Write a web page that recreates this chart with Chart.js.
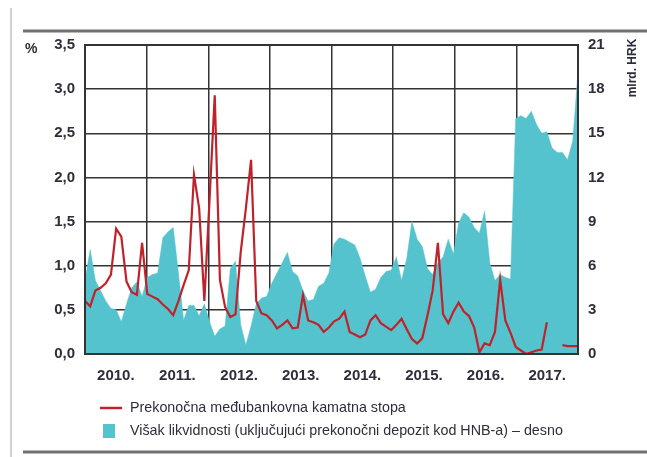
<!DOCTYPE html>
<html>
<head>
<meta charset="utf-8">
<script src="https://cdn.jsdelivr.net/npm/chart.js@4.4.1/dist/chart.umd.min.js"></script>
<style>
  html, body { margin: 0; padding: 0; background: #fff; }
  canvas { display: block; }
</style>
</head>
<body>
<canvas id="chart" width="647" height="457"></canvas>
<script>
// monthly values, Jan 2010 - Dec 2017
const years = ['2010.', '2011.', '2012.', '2013.', '2014.', '2015.', '2016.', '2017.'];

// overnight interbank rate, % (left axis)
const rate = [
    0.60, 0.54, 0.72, 0.75, 0.80, 0.90, 1.42, 1.33, 0.82, 0.70, 0.67, 1.26,
    0.68, 0.65, 0.62, 0.56, 0.51, 0.44, 0.60, 0.78, 0.95, 2.03, 1.65, 0.60,
    1.75, 2.93, 0.84, 0.53, 0.42, 0.45, 1.15, 1.65, 2.20, 0.60, 0.46, 0.44,
    0.38, 0.29, 0.33, 0.38, 0.29, 0.30, 0.67, 0.38, 0.36, 0.33, 0.25, 0.30,
    0.37, 0.40, 0.48, 0.25, 0.22, 0.19, 0.22, 0.38, 0.44, 0.35, 0.31, 0.27,
    0.33, 0.40, 0.28, 0.17, 0.12, 0.18, 0.44, 0.72, 1.26, 0.45, 0.35, 0.48,
    0.58, 0.48, 0.43, 0.30, 0.02, 0.12, 0.10, 0.25, 0.84, 0.38, 0.24, 0.08,
    0.04, 0.00, 0.02, 0.04, 0.05, 0.36, null, null, 0.10, 0.09, 0.09, 0.09
];

// excess liquidity, bn HRK (right axis)
const liquidity = [
    5.0, 7.1, 5.0, 4.3, 3.6, 3.1, 3.0, 2.2, 3.4, 4.5, 4.9, 3.9,
    5.2, 5.4, 5.5, 7.9, 8.3, 8.6, 5.5, 2.3, 3.3, 3.3, 2.6, 3.4,
    2.2, 1.2, 1.7, 1.9, 5.8, 6.3, 2.0, 0.6, 1.9, 3.4, 3.8, 3.9,
    4.8, 5.5, 6.2, 6.9, 5.6, 5.3, 4.3, 3.6, 3.7, 4.6, 4.8, 5.5,
    7.5, 7.9, 7.8, 7.6, 7.4, 6.5, 5.3, 4.2, 4.4, 5.2, 5.6, 5.7,
    6.6, 5.0, 6.5, 9.0, 7.8, 7.3, 5.8, 5.4, 6.2, 6.6, 7.8, 6.8,
    8.9, 9.6, 9.3, 8.6, 8.2, 9.7, 6.2, 5.0, 5.4, 5.2, 5.1, 16.0,
    16.2, 16.0, 16.5, 15.6, 15.0, 15.1, 14.0, 13.7, 13.7, 13.2, 14.5, 19.2
];

const FONT = "'Liberation Sans', Arial, sans-serif";
const TEXT = '#2e2e3c';
const GRID = '#333';

const nMonths = years.length * 12;
const toPoints = arr => arr.map((v, i) => ({ x: i * nMonths / (arr.length - 1), y: v }));

const decorations = {
    id: 'decorations',
    afterDatasetsDraw(chart) {
        const { ctx, chartArea: a } = chart;
        ctx.save();
        // frame of the plot
        ctx.strokeStyle = GRID;
        ctx.lineWidth = 2;
        ctx.strokeRect(a.left, a.top, a.right - a.left, a.bottom - a.top);
        ctx.restore();
    },
    afterDraw(chart) {
        const { ctx } = chart;
        ctx.save();
        // page rules
        ctx.strokeStyle = '#d0d0d0';
        ctx.lineWidth = 2;
        ctx.beginPath(); ctx.moveTo(11, 8); ctx.lineTo(11, 457); ctx.stroke();
        ctx.strokeStyle = '#707070';
        ctx.lineWidth = 3;
        ctx.beginPath(); ctx.moveTo(23, 31); ctx.lineTo(647, 31); ctx.stroke();
        ctx.beginPath(); ctx.moveTo(23, 452); ctx.lineTo(647, 452); ctx.stroke();

        // axis units
        ctx.fillStyle = TEXT;
        ctx.font = 'bold 14px ' + FONT;
        ctx.textBaseline = 'middle';
        ctx.textAlign = 'left';
        ctx.fillText('%', 25, 49);
        ctx.save();
        ctx.translate(633, 68);
        ctx.rotate(-Math.PI / 2);
        ctx.textAlign = 'center';
        ctx.font = 'bold 12px ' + FONT;
        ctx.fillText('mlrd. HRK', 0, 0);
        ctx.restore();

        // legend
        const ds = chart.data.datasets;
        ctx.font = '14.3px ' + FONT;
        ctx.textAlign = 'left';
        ctx.strokeStyle = ds[0].borderColor;
        ctx.lineWidth = 2.5;
        ctx.beginPath(); ctx.moveTo(100, 408); ctx.lineTo(122, 408); ctx.stroke();
        ctx.fillText(ds[0].label, 130, 408);
        ctx.fillStyle = ds[1].backgroundColor;
        ctx.fillRect(103, 424, 12, 14);
        ctx.fillStyle = TEXT;
        ctx.fillText(ds[1].label, 130, 431);
        ctx.restore();
    }
};

new Chart(document.getElementById('chart'), {
    type: 'line',
    data: {
        datasets: [{
            label: 'Prekonočna međubankovna kamatna stopa',
            data: toPoints(rate),
            yAxisID: 'y',
            borderColor: '#c0222c',
            borderWidth: 2.2,
            pointRadius: 0,
            tension: 0,
            spanGaps: false,
            fill: false
        }, {
            label: 'Višak likvidnosti (uključujući prekonočni depozit kod HNB-a) – desno',
            data: toPoints(liquidity),
            yAxisID: 'y1',
            borderColor: '#55c3cd',
            backgroundColor: '#55c3cd',
            borderWidth: 0.5,
            pointRadius: 0,
            tension: 0,
            fill: 'origin'
        }]
    },
    options: {
        responsive: false,
        animation: false,
        layout: { padding: { top: 45, left: 0, right: 0, bottom: 0 } },
        plugins: { legend: { display: false }, tooltip: { enabled: false } },
        scales: {
            x: {
                type: 'linear',
                min: 0,
                max: nMonths,
                afterBuildTicks: s => {
                    s.ticks = Array.from({ length: nMonths / 6 + 1 }, (_, k) => ({ value: k * 6 }));
                },
                afterFit: s => { s.height = 103; },
                ticks: {
                    autoSkip: false,
                    maxRotation: 0,
                    padding: 13,
                    color: TEXT,
                    font: { family: FONT, size: 15, weight: 'bold' },
                    callback: v => (v % 12 === 6 ? years[(v - 6) / 12] : '')
                },
                grid: {
                    color: c => (c.tick && c.tick.value % 12 === 0 ? GRID : 'rgba(0,0,0,0)'),
                    lineWidth: 1.5,
                    drawTicks: false
                },
                border: { color: GRID, width: 2 }
            },
            y: {
                position: 'left',
                min: 0,
                max: 3.5,
                afterFit: s => { s.width = 85; },
                ticks: {
                    stepSize: 0.5,
                    padding: 10,
                    color: TEXT,
                    font: { family: FONT, size: 15, weight: 'bold' },
                    callback: v => v.toFixed(1).replace('.', ',')
                },
                grid: { color: GRID, lineWidth: 1.5, drawTicks: false },
                border: { color: GRID, width: 2 }
            },
            y1: {
                position: 'right',
                min: 0,
                max: 21,
                afterFit: s => { s.width = 69; },
                ticks: {
                    stepSize: 3,
                    padding: 10,
                    color: TEXT,
                    font: { family: FONT, size: 15, weight: 'bold' }
                },
                grid: { drawOnChartArea: false, drawTicks: false },
                border: { color: GRID, width: 2 }
            }
        }
    },
    plugins: [decorations]
});
</script>
</body>
</html>
